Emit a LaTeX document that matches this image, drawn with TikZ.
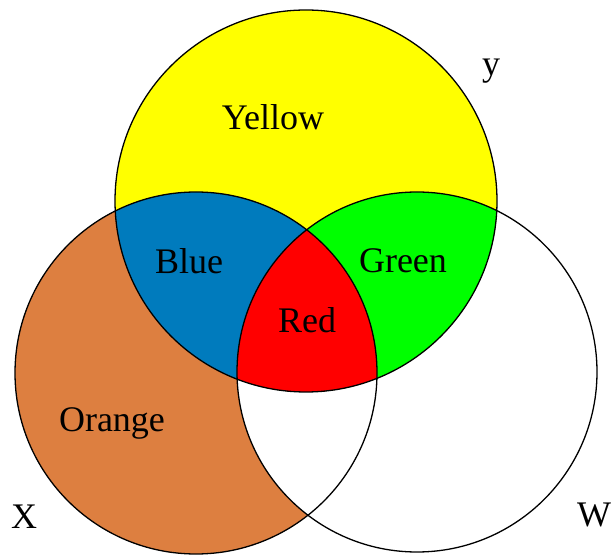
\documentclass[tikz,border=0pt]{standalone}
\usepackage{fontspec}
\setmainfont{Liberation Serif}
\usepackage{xcolor}
\usepackage{tikz}

\definecolor{vyellow}{RGB}{255,255,0}
\definecolor{vblue}{RGB}{0,123,189}
\definecolor{vgreen}{RGB}{0,255,0}
\definecolor{vred}{RGB}{255,0,0}
\definecolor{vorange}{RGB}{221,127,64}

\newcommand{\setY}{(306,356) circle (191pt)}
\newcommand{\setX}{(196,184) circle (181pt)}
\newcommand{\setW}{(417,185) circle (180pt)}

\begin{document}
\begin{tikzpicture}[x=1pt,y=1pt,font=\fontsize{36}{36}\selectfont]
\useasboundingbox (0,0) rectangle (613,557);
\fill[white] (0,0) rectangle (613,557);
\fill[vorange] \setX;
\begin{scope}
\clip \setW;
\fill[white] \setX;
\end{scope}
\fill[vyellow] \setY;
\begin{scope}
\clip \setX;
\fill[vblue] \setY;
\end{scope}
\begin{scope}
\clip \setY;
\fill[vgreen] \setW;
\end{scope}
\begin{scope}
\clip \setX;
\clip \setY;
\fill[vred] \setW;
\end{scope}
\draw[line width=1.3pt] \setY;
\draw[line width=1.3pt] \setX;
\draw[line width=1.3pt] \setW;
\node (yellow) at (273,440) {Yellow};
\node (blue) at (189,296) {Blue};
\node (green) at (403,296) {Green};
\node (red) at (307,237) {Red};
\node (orange) at (112,134) {Orange};
\node (y) at (491,486) {y};
\node (x) at (24,40) {X};
\node (w) at (594,42) {W};
\end{tikzpicture}
\end{document}
